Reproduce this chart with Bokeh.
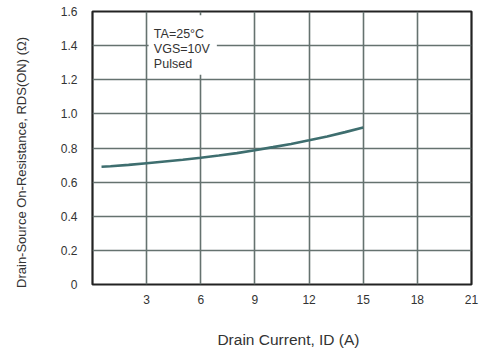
from bokeh.plotting import figure
from bokeh.embed import file_html
from bokeh.resources import INLINE
from bokeh.models import FixedTicker, Range1d
from bokeh.core.properties import value

# data
drain_current = [0.5, 1, 2, 3, 4, 5, 6, 7, 8, 9, 10, 11, 12, 13, 14, 15]
rds_on = [0.690, 0.693, 0.701, 0.711, 0.721, 0.731, 0.743, 0.756, 0.770,
          0.787, 0.805, 0.824, 0.845, 0.868, 0.893, 0.920]
x_ticks = [3, 6, 9, 12, 15, 18, 21]
y_ticks = [0, 0.2, 0.4, 0.6, 0.8, 1.0, 1.2, 1.4, 1.6]
y_tick_labels = ["0", "0.2", "0.4", "0.6", "0.8", "1.0", "1.2", "1.4", "1.6"]
note_lines = ["TA=25°C", "VGS=10V", "Pulsed"]
x_title = "Drain Current, ID (A)"
y_title = "Drain-Source On-Resistance, RDS(ON) (Ω)"

FONT = "Liberation Sans"
TXT = "#333333"
NBSP = "\u00a0"

p = figure(width=480, height=353, output_backend="svg", toolbar_location=None,
           x_range=Range1d(0, 21), y_range=Range1d(0, 1.6),
           min_border_left=92, min_border_right=9, min_border_top=11, min_border_bottom=69)

p.outline_line_color = "#222222"
p.outline_line_width = 2.2

for ax in (p.xaxis[0], p.yaxis[0]):
    ax.axis_line_color = None
    ax.major_tick_line_color = None
    ax.minor_tick_line_color = None
    ax.major_tick_out = 0
    ax.major_tick_in = 0
    ax.minor_tick_out = 0
    ax.major_label_text_font = FONT
    ax.major_label_text_font_size = "12px"
    ax.major_label_text_color = TXT
    ax.axis_label_text_font = FONT
    ax.axis_label_text_font_style = "normal"
    ax.axis_label_text_color = TXT

p.xaxis.ticker = FixedTicker(ticks=x_ticks)
p.yaxis.ticker = FixedTicker(ticks=y_ticks)
p.yaxis.major_label_overrides = {t: l for t, l in zip(y_ticks, y_tick_labels)}
p.xaxis.major_label_standoff = 10
p.yaxis.major_label_standoff = 15

# non-breaking spaces only nudge the centred titles to where the reference has them
p.xaxis.axis_label = NBSP * 3 + x_title
p.xaxis.axis_label_text_font_size = "15.5px"
p.xaxis.axis_label_standoff = 24
p.yaxis.axis_label = y_title + NBSP * 8
p.yaxis.axis_label_text_font_size = "13px"
p.yaxis.axis_label_standoff = 29

p.xgrid.ticker = FixedTicker(ticks=x_ticks)
p.ygrid.ticker = FixedTicker(ticks=y_ticks)
for g in (p.xgrid[0], p.ygrid[0]):
    g.grid_line_color = "#65726f"
    g.grid_line_width = 1.6

# white box behind the annotation
p.quad(left=[3.11], right=[6.89], bottom=[1.23], top=[1.578],
       fill_color="white", line_color=None)

p.text(x=[3.40] * 3, y=[1.468, 1.380, 1.293], text=note_lines,
       text_font=value(FONT), text_font_size="12.5px", text_color=TXT,
       text_baseline="middle", text_align="left")

p.line(drain_current, rds_on, line_color="#3e6e6f", line_width=2.6)

open("out.html", "w").write(file_html(p, INLINE))
